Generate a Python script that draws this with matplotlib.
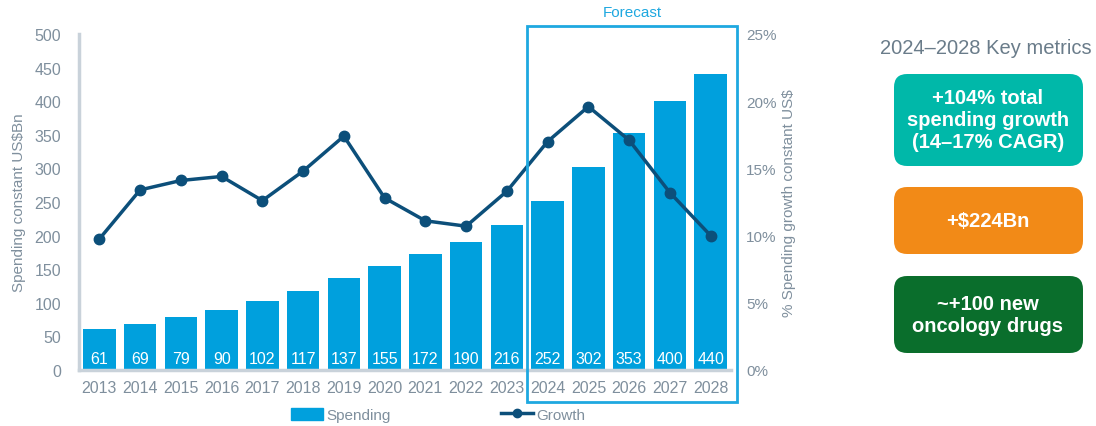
import matplotlib
matplotlib.use("Agg")
import matplotlib.pyplot as plt
from matplotlib.patches import Rectangle, FancyBboxPatch
from matplotlib.lines import Line2D
import numpy as np

plt.rcParams['font.family'] = ['Liberation Sans', 'DejaVu Sans']

years = ["2013", "2014", "2015", "2016", "2017", "2018", "2019", "2020",
         "2021", "2022", "2023", "2024", "2025", "2026", "2027", "2028"]
spending = [61, 69, 79, 90, 102, 117, 137, 155, 172, 190, 216, 252, 302, 353, 400, 440]
growth = [9.75, 13.4, 14.1, 14.4, 12.6, 14.8, 17.4, 12.8, 11.1, 10.7, 13.3,
          17.0, 19.6, 17.1, 13.2, 10.0]
left_ticks = [0, 50, 100, 150, 200, 250, 300, 350, 400, 450, 500]
right_ticks = [0, 5, 10, 15, 20, 25]
metrics_title = "2024–2028 Key metrics"
metrics = ["+104% total\nspending growth\n(14–17% CAGR)", "+$224Bn", "~+100 new\noncology drugs"]
metric_colors = ["#00b8a9", "#f28a17", "#0a6e2c"]

BAR = "#00a0dd"
LINE = "#0c4f7a"
GRAY = "#7f8f9d"
SPINE = "#c9d2da"

W, H = 1096, 427
fig = plt.figure(figsize=(W / 100, H / 100), dpi=100)
ax = fig.add_axes([79 / W, 1 - 371 / H, (731 - 79) / W, (371 - 35) / H])
x = np.arange(len(years))
bars = ax.bar(x, spending, width=0.8, color=BAR, zorder=2)
for xi, v in zip(x, spending):
    ax.text(xi, 6, str(v), ha="center", va="bottom", color="white", fontsize=11.5, zorder=3)
ax.set_xlim(-0.5, len(years) - 0.5)
ax.set_ylim(0, 500)
ax.set_yticks(left_ticks)
ax.set_xticks(x)
ax.set_xticklabels(years)
ax.tick_params(axis="both", length=0, labelsize=11.5, labelcolor=GRAY)
ax.tick_params(axis="x", pad=7)
ax.tick_params(axis="y", pad=13)
for s in ["top", "right"]:
    ax.spines[s].set_visible(False)
ax.spines["left"].set_color(SPINE)
ax.spines["left"].set_linewidth(2.5)
ax.spines["bottom"].set_color(SPINE)
ax.spines["bottom"].set_linewidth(2.5)
ax.set_ylabel("Spending constant US$Bn", color=GRAY, fontsize=11, labelpad=6)

ax2 = ax.twinx()
ax2.plot(x, growth, color=LINE, lw=2.5, marker="o", markersize=7.5, zorder=4)
ax2.set_ylim(0, 25)
ax2.set_yticks(right_ticks)
ax2.set_yticklabels([f"{t}%" for t in right_ticks])
ax2.tick_params(axis="y", length=0, labelsize=11, labelcolor=GRAY, pad=11)
for s in ["top", "right", "left", "bottom"]:
    ax2.spines[s].set_visible(False)
ax2.set_ylabel("% Spending growth constant US$", color=GRAY, fontsize=11, labelpad=4)

# Forecast box
fig.patches.append(Rectangle((527 / W, 1 - 403 / H), (737 - 527) / W, (403 - 27) / H,
                             transform=fig.transFigure, fill=False, edgecolor="#1ea8e0",
                             linewidth=2, zorder=5))
fig.text(632 / W, 1 - 13 / H, "Forecast", color="#1ea8e0", fontsize=11, ha="center", va="center")

# Legend
handles = [Rectangle((0, 0), 1, 1, color=BAR),
           Line2D([0], [0], color=LINE, lw=2.5, marker="o", markersize=6)]
fig.legend(handles, ["Spending", "Growth"], loc="center", bbox_to_anchor=(438 / W, 1 - 416 / H),
           ncol=2, frameon=False, fontsize=11, labelcolor=GRAY, columnspacing=7.2,
           handlelength=2.1, handletextpad=0.2, handleheight=0.8)

# Key metrics
fig.text(986 / W, 1 - 48 / H, metrics_title, color="#6a7c8a", fontsize=14.5, ha="center", va="center")
boxes = [(75, 167), (188, 255), (277, 354)]
for (y0, y1), txt, c in zip(boxes, metrics, metric_colors):
    fig.patches.append(FancyBboxPatch((894 / W, 1 - y1 / H), (1083 - 894) / W, (y1 - y0) / H,
                                      boxstyle="round,pad=0,rounding_size=0.012",
                                      transform=fig.transFigure, facecolor=c, edgecolor="none",
                                      mutation_aspect=W / H))
    fig.text(988 / W, 1 - (y0 + y1) / 2 / H, txt, color="white", fontsize=14.5, fontweight="bold",
             ha="center", va="center", linespacing=1.2)

fig.savefig("out.png", dpi=100)
